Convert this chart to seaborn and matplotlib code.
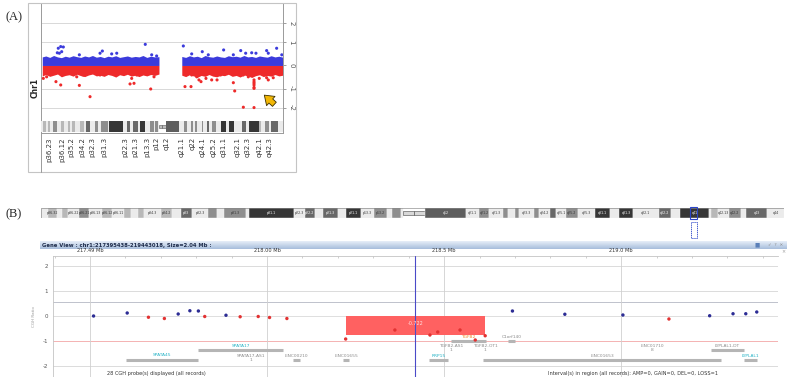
import numpy as np
import pandas as pd
import matplotlib
matplotlib.use("Agg")
import matplotlib.pyplot as plt
import seaborn as sns
from matplotlib.patches import Rectangle
from matplotlib.colors import LinearSegmentedColormap

sns.set_style("white")
plt.rcParams['font.family'] = ['DejaVu Sans']

# ---------------- data ----------------
# chromosome 1 cytobands (hg19, Mb)
band_names = ["p36.33","p36.32","p36.31","p36.23","p36.22","p36.21","p36.13","p36.12","p36.11","p35.3",
              "p35.2","p35.1","p34.3","p34.2","p34.1","p33","p32.3","p32.2","p32.1","p31.3","p31.2","p31.1",
              "p22.3","p22.2","p22.1","p21.3","p21.2","p21.1","p13.3","p13.2","p13.1","p12","p11.2","p11.1",
              "q11","q12","q21.1","q21.2","q21.3","q22","q23.1","q23.2","q23.3","q24.1","q24.2","q24.3",
              "q25.1","q25.2","q25.3","q31.1","q31.2","q31.3","q32.1","q32.2","q32.3","q41","q42.11","q42.12",
              "q42.13","q42.2","q42.3","q43","q44"]
band_start = [0.0,2.3,5.4,7.2,9.2,12.7,16.2,20.4,23.9,28.0,30.2,32.4,34.6,40.1,44.1,46.8,50.7,56.1,59.0,61.3,
              68.9,69.7,84.9,88.4,92.0,94.7,99.7,102.2,107.2,111.8,116.1,117.8,120.7,121.5,125.0,128.9,142.6,
              147.0,150.3,155.0,156.5,159.1,160.5,165.5,167.2,170.9,172.9,176.0,180.3,185.8,190.8,193.8,198.7,
              207.2,211.5,214.5,224.1,224.6,227.0,230.7,234.7,236.6,243.7]
band_end = band_start[1:] + [249.25]
band_stain = ["gneg","gpos25","gneg","gpos25","gneg","gpos50","gneg","gpos25","gneg","gpos25","gneg","gpos25",
              "gneg","gpos25","gneg","gpos75","gneg","gpos50","gneg","gpos50","gneg","gpos100","gneg","gpos75",
              "gneg","gpos75","gneg","gpos100","gneg","gpos50","gneg","gpos50","gneg","acen","acen","gvar",
              "gneg","gpos50","gneg","gpos50","gneg","gpos50","gneg","gpos50","gneg","gpos75","gneg","gpos50",
              "gneg","gpos100","gneg","gpos100","gneg","gpos75","gneg","gpos100","gneg","gpos25","gneg","gpos50",
              "gneg","gpos75","gneg"]

# panel A axis labels
a_tick_bands = ["p36.23","p36.12","p35.2","p34.2","p32.3","p31.3","p22.3","p21.3","p13.3","p12","q12",
                "q21.1","q22","q24.1","q25.2","q31.1","q32.1","q32.3","q42.1","q42.3"]
a_tick_pos = [8.2, 22.1, 31.3, 42.1, 53.4, 65.1, 86.6, 97.2, 109.5, 119.2, 128.9,
              144.8, 155.7, 166.3, 178.1, 188.3, 203.0, 213.0, 225.5, 235.6]
a_yticks = [-2, -1, 0, 1, 2]

# panel A dense probe band (envelope of the bulk of probes)
p_arm_x = [1.3, 5, 9, 13, 17, 21, 25, 29, 33, 37, 41, 45, 49, 53, 57, 61, 65, 69, 73, 77, 81, 85, 89, 93,
           97, 101, 105, 109, 113, 117, 121.5]
p_arm_hi = [0.30, 0.34, 0.28, 0.36, 0.30, 0.27, 0.33, 0.29, 0.35, 0.31, 0.28, 0.34, 0.30, 0.36, 0.29, 0.32,
            0.27, 0.33, 0.30, 0.35, 0.28, 0.31, 0.34, 0.29, 0.32, 0.30, 0.36, 0.28, 0.33, 0.30, 0.31]
p_arm_lo = [-0.38, -0.32, -0.40, -0.35, -0.30, -0.42, -0.36, -0.33, -0.39, -0.31, -0.37, -0.41, -0.34, -0.30,
            -0.38, -0.35, -0.40, -0.32, -0.36, -0.43, -0.33, -0.37, -0.31, -0.39, -0.35, -0.41, -0.34, -0.38,
            -0.32, -0.36, -0.30]
q_arm_x = [145.0, 149, 153, 157, 161, 165, 169, 173, 177, 181, 185, 189, 193, 197, 201, 205, 209, 213, 217,
           221, 225, 229, 233, 237, 241, 245, 249.0]
q_arm_hi = [0.32, 0.28, 0.35, 0.30, 0.33, 0.27, 0.36, 0.31, 0.29, 0.34, 0.30, 0.28, 0.35, 0.31, 0.33, 0.29,
            0.36, 0.30, 0.32, 0.28, 0.34, 0.31, 0.29, 0.35, 0.30, 0.33, 0.29]
q_arm_lo = [-0.35, -0.41, -0.33, -0.38, -0.44, -0.36, -0.40, -0.32, -0.39, -0.42, -0.35, -0.37, -0.31, -0.40,
            -0.36, -0.43, -0.34, -0.38, -0.45, -0.37, -0.33, -0.41, -0.36, -0.39, -0.32, -0.38, -0.35]

# panel A outlier probes
a_blue_x = [17.8, 20.3, 23.0, 18.9, 21.3, 16.8, 39.5, 60.8, 63.2, 72.8, 78.0, 107.4, 114.0, 119.1, 146.6, 155.2,
            166.1, 172.3, 188.1, 198.1, 205.7, 210.8, 217.0, 221.4, 232.4, 234.1, 242.7, 248.0]
a_blue_y = [0.69, 0.77, 0.75, 0.46, 0.53, 0.48, 0.39, 0.46, 0.56, 0.43, 0.46, 0.88, 0.39, 0.34, 0.80, 0.43,
            0.53, 0.39, 0.61, 0.39, 0.58, 0.46, 0.48, 0.46, 0.58, 0.46, 0.69, 0.39]
a_red_x = [2.4, 5.8, 15.4, 20.3, 39.5, 50.5, 60.8, 91.7, 95.8, 93.4, 98.6, 113.0, 116.4, 36.8, 43.6, 148.3,
           154.5, 162.7, 164.8, 169.9, 175.8, 181.3, 185.0, 198.1, 199.5, 208.4, 219.4, 219.4, 219.4, 219.4,
           219.4, 219.4, 219.4, 224.8, 232.4, 234.1, 239.2, 167.2, 191.2, 155.2, 160.4, 208.4, 213.5, 229.0]
a_red_y = [-0.49, -0.42, -0.64, -0.80, -0.82, -1.40, -0.34, -0.75, -0.72, -0.49, -0.34, -1.00, -0.42, -0.42,
           -0.34, -0.88, -0.88, -0.56, -0.64, -0.49, -0.56, -0.56, -0.34, -0.69, -1.10, -1.98, -0.56, -0.65,
           -0.72, -0.80, -0.92, -0.97, -2.00, -0.49, -0.46, -0.56, -0.46, -0.27, -0.27, -0.34, -0.42, -0.34,
           -0.42, -0.27]

# panel B probes (Mb, CGH ratio)
b_pos = [217.510, 217.605, 217.665, 217.710, 217.749, 217.782, 217.806, 217.824, 217.884, 217.924, 217.975,
         218.007, 218.056, 218.222, 218.361, 218.460, 218.482, 218.545, 218.588, 218.616, 218.693, 218.841,
         219.005, 219.135, 219.250, 219.316, 219.352, 219.383]
b_val = [0.00, 0.12, -0.05, -0.10, 0.08, 0.21, 0.20, -0.02, 0.03, -0.03, -0.02, -0.06, -0.10, -0.92, -0.56,
         -0.76, -0.64, -0.56, -0.96, -0.79, 0.20, 0.07, 0.04, -0.12, 0.01, 0.09, 0.09, 0.16]

# aberration interval
seg_start, seg_end, seg_val, seg_label = 218.222, 218.616, -0.74, "-0.722"
cursor_pos = 218.418
region_start, region_end = 217.395438, 219.443018

# genes
gene_label = ["SPATA45", "SPATA17", "SPATA17-AS1\n1", "LINC00210", "LINC01655", "TGFB2", "TGFB2-AS1\n1",
              "TGFB2-OT1\n1", "RRP15", "C1orf140", "LINC01653", "LINC01710\n8", "LYPLAL1-DT", "LYPLAL1"]
gene_start = [217.601, 217.805, 217.955, 218.073, 218.215, 218.519, 218.519, 218.616, 218.458, 218.681,
              218.610, 219.088, 219.253, 219.347]
gene_end = [217.805, 218.045, 217.955, 218.093, 218.232, 218.617, 218.519, 218.616, 218.511, 218.701,
            219.282, 219.088, 219.346, 219.384]
gene_bar_y = [-1.75, -1.37, -1.37, -1.74, -1.74, -0.98, -1.37, -1.37, -1.74, -0.98, -1.74, -1.37, -1.37, -1.74]
gene_text_y = [-1.57, -1.21, -1.68, -1.59, -1.59, -0.84, -1.28, -1.28, -1.60, -0.84, -1.60, -1.28, -1.20, -1.60]
gene_kind = ["refseq", "refseq", "other", "other", "other", "hit", "other", "other", "refseq", "other",
             "other", "other", "other", "refseq"]

# ---------------- figure ----------------
W, H = 787, 377
fig = plt.figure(figsize=(W / 100, H / 100), dpi=100)


def ax_px(x0, y0, x1, y1):
    return fig.add_axes([x0 / W, 1 - y1 / H, (x1 - x0) / W, (y1 - y0) / H])


def fig_rect(x0, y0, x1, y1, **kw):
    fig.patches.append(Rectangle((x0 / W, 1 - y1 / H), (x1 - x0) / W, (y1 - y0) / H,
                                 transform=fig.transFigure, **kw))


stain_color = {"gneg": "#ebebeb", "gpos25": "#b8b8b8", "gpos50": "#8e8e8e", "gpos75": "#686868",
               "gpos100": "#363636", "gvar": "#5e5e5e", "acen": "#a0a0a0"}

fig.text(5 / W, 1 - 17 / H, "(A)", fontsize=9, family="Liberation Serif", va="center", ha="left")
fig.text(5 / W, 1 - 214 / H, "(B)", fontsize=9, family="Liberation Serif", va="center", ha="left")

# ======== Panel A ========
fig_rect(28, 3, 296, 172, fill=False, edgecolor="#c4c4c4", lw=0.8)
fig.add_artist(plt.Line2D([41 / W, 41 / W], [1 - 133 / H, 1 - 172 / H], transform=fig.transFigure,
                          color="#9a9a9a", lw=0.7))
axA = ax_px(41, 3, 283, 133)
pw = 0.84
axA.set_yscale("function", functions=(lambda y: np.sign(y) * np.abs(y) ** pw,
                                      lambda f: np.sign(f) * np.abs(f) ** (1 / pw)))
axA.set_xlim(0, 249.25)
axA.set_ylim(-3.51, 3.20)
for v in [2, 1, -1, -2]:
    axA.axhline(v, color="#d2d2d2", lw=0.6, zorder=0)

blue_a, red_a = "#3b3bdc", "#ee2a2a"
for xs, hi, lo in [(p_arm_x, p_arm_hi, p_arm_lo), (q_arm_x, q_arm_hi, q_arm_lo)]:
    xs = np.array(xs)
    axA.fill_between(xs, 0, np.array(hi), color=blue_a, lw=0, zorder=2)
    axA.fill_between(xs, np.array(lo), 0, color=red_a, lw=0, zorder=2)

dfA = pd.DataFrame({"pos": a_blue_x + a_red_x, "ratio": a_blue_y + a_red_y,
                    "call": ["gain"] * len(a_blue_x) + ["loss"] * len(a_red_x)})
sns.scatterplot(data=dfA, x="pos", y="ratio", hue="call", palette={"gain": blue_a, "loss": red_a},
                s=5, linewidth=0, legend=False, ax=axA, zorder=3)

tx = axA.get_xaxis_transform()
for s, e, st in zip(band_start, band_end, band_stain):
    if st == "acen":
        axA.add_patch(Rectangle((s, 0.035), e - s, 0.03, transform=tx, facecolor="#bdbdbd",
                                edgecolor="#555555", lw=0.4, zorder=4))
    else:
        axA.add_patch(Rectangle((s, 0.008), e - s, 0.084, transform=tx, facecolor=stain_color[st],
                                edgecolor="none", zorder=4))

axA.annotate("", xy=(227.9, -1.22), xytext=(242.5, -1.92),
             arrowprops=dict(arrowstyle="simple,head_width=1.0,head_length=0.7,tail_width=0.45",
                             fc="#f2b705", ec="#3d3000", lw=0.6, mutation_scale=9), zorder=6)

axA.set_xticks(a_tick_pos)
axA.set_xticklabels(a_tick_bands, rotation=90, fontsize=5, color="#333333")
axA.yaxis.tick_right()
axA.set_yticks(a_yticks)
axA.set_yticklabels([str(v) for v in a_yticks], rotation=-90, fontsize=5, color="#555555", va="center")
axA.tick_params(axis="x", length=2, width=0.5, pad=1, color="#777777")
axA.tick_params(axis="y", length=2, width=0.5, pad=2, color="#777777")
axA.yaxis.set_minor_locator(matplotlib.ticker.NullLocator())
axA.set_xlabel("")
axA.set_ylabel("")
for sp in ["left", "right", "bottom"]:
    axA.spines[sp].set_color("#9a9a9a")
    axA.spines[sp].set_linewidth(0.7)
axA.spines["top"].set_visible(False)
fig.text(35 / W, 1 - 88 / H, "Chr1", rotation=90, fontsize=5.5, fontweight="bold", ha="center", va="center")

# ======== Panel B ========
# ideogram
axI = ax_px(41, 208, 784, 218)
axI.set_xlim(0, 249.25)
axI.set_ylim(0, 1)
axI.axis("off")
for name, s, e, st in zip(band_names, band_start, band_end, band_stain):
    if st == "acen":
        axI.add_patch(Rectangle((s, 0.3), e - s, 0.4, facecolor="#d8d8d8", edgecolor="#444444", lw=0.4))
    else:
        axI.add_patch(Rectangle((s, 0), e - s, 1, facecolor=stain_color[st], edgecolor="#f4f4f4", lw=0.3))
        if e - s > 3.0:
            tc = "white" if st in ("gpos75", "gpos100", "gvar") else "#333333"
            axI.text((s + e) / 2, 0.5, name, fontsize=2.3, color=tc, ha="center", va="center")
axI.add_patch(Rectangle((0, 0), 249.25, 1, fill=False, edgecolor="#777777", lw=0.4))

# highlight of the viewed region
fig_rect(689.5, 207, 697, 219, fill=False, edgecolor="#2a44c8", lw=0.8)
fig_rect(690.5, 222, 696.5, 238, fill=False, edgecolor="#2a44c8", lw=0.6, linestyle=(0, (1.5, 0.8)))

# Gene View header
axHd = ax_px(40, 241, 787, 249)
grad = np.linspace(0, 1, 20).reshape(-1, 1)
axHd.imshow(grad, aspect="auto", cmap=LinearSegmentedColormap.from_list("g", ["#e6eef8", "#a8bedc"]),
            extent=(0, 1, 0, 1))
axHd.set_xlim(0, 1)
axHd.set_ylim(0, 1)
axHd.axis("off")
axHd.text(0.003, 0.5, "Gene View : chr1:217395438-219443018, Size=2.04 Mb :", fontsize=3.8,
          fontweight="bold", color="#1d2b4a", va="center", ha="left")
axHd.text(0.96, 0.5, "\u25a0", fontsize=4, color="#5a7fb8", va="center", ha="center")
axHd.text(0.975, 0.5, "\u2713  ?  \u2715", fontsize=3.2, color="#8a8a8a", va="center", ha="left")
fig.text(783 / W, 1 - 252 / H, "\u00d7", fontsize=3.5, color="#999999", ha="center", va="center")

# main gene view axes
axB = ax_px(53, 256, 778, 377)
axB.set_xlim(region_start, region_end)
axB.set_ylim(-2.44, 2.40)
for v, c in [(2, "#d6d6d6"), (1, "#d6d6d6"), (0.57, "#b4b8c4"), (0, "#d9d9d9"), (-1, "#f2a6a6"),
             (-2, "#d6d6d6")]:
    axB.axhline(v, color=c, lw=0.6, zorder=0)
for v in [217.5, 218.0, 218.5, 219.0]:
    axB.axvline(v, color="#d0d0d0", lw=0.6, zorder=0)
axB.axvline(cursor_pos, color="#4a4ac8", lw=0.8, zorder=5)

axB.bar([seg_start], [seg_val], width=[seg_end - seg_start], align="edge", color="#ff6161",
        edgecolor="none", zorder=1)
axB.text((seg_start + seg_end) / 2, seg_val * 0.4, seg_label, fontsize=3.5, color="#ffe0e0",
         ha="center", va="center", zorder=6)

dfB = pd.DataFrame({"pos": b_pos, "ratio": b_val})
dfB["call"] = np.where(dfB["ratio"] >= 0, "gain", "loss")
sns.scatterplot(data=dfB, x="pos", y="ratio", hue="call", palette={"gain": "#2c2c94", "loss": "#e23232"},
                s=6, linewidth=0, legend=False, ax=axB, zorder=4)

kind_color = {"refseq": "#25b3c6", "other": "#8c8c8c", "hit": "#f08a2a"}
for lab, s, e, by, ty, k in zip(gene_label, gene_start, gene_end, gene_bar_y, gene_text_y, gene_kind):
    if e > s:
        axB.hlines(by, s, e, color="#b5b5b5", lw=2.2, zorder=2)
    axB.text((s + e) / 2, ty, lab, fontsize=3.2, color=kind_color[k], ha="center", va="center",
             linespacing=0.9, zorder=3)

axB.set_xlabel("")
axB.set_ylabel("CGH Ratio", fontsize=3, color="#9a9a9a", labelpad=5)
axB.set_yticks([-2, -1, 0, 1, 2])
axB.set_yticklabels(["-2", "-1", "0", "1", "2"], fontsize=4, color="#555555")
axB.tick_params(axis="y", length=1.5, width=0.4, pad=2, color="#999999")
axB.xaxis.tick_top()
axB.set_xticks([217.5, 218.0, 218.5, 219.0])
axB.set_xticklabels(["217.49 Mb", "218.00 Mb", "218.5 Mb", "219.0 Mb"], fontsize=3.6, color="#333333")
axB.set_xticks(np.arange(217.4, 219.45, 0.1), minor=True)
axB.tick_params(axis="x", which="major", length=0, pad=2.5)
axB.tick_params(axis="x", which="minor", direction="in", length=1.5, width=0.4, color="#aaaaaa")
for sp in ["bottom", "right"]:
    axB.spines[sp].set_visible(False)
for sp in ["top", "left"]:
    axB.spines[sp].set_color("#c4c4c4")
    axB.spines[sp].set_linewidth(0.6)

axB.text(217.395438 + (156 - 53) / 354, -2.31, "28 CGH probe(s) displayed (all records)", fontsize=3.6,
         color="#333333", ha="center", va="center")
axB.text(217.395438 + (633 - 53) / 354, -2.31,
         "Interval(s) in region (all records): AMP=0, GAIN=0, DEL=0, LOSS=1", fontsize=3.6,
         color="#333333", ha="center", va="center")

fig.savefig("out.png", dpi=100)
